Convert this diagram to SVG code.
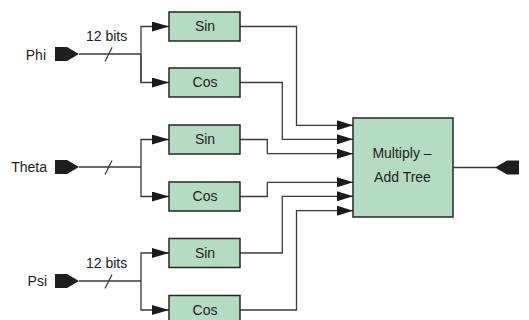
<svg xmlns="http://www.w3.org/2000/svg" width="529" height="320" viewBox="0 0 529 320">
<style>
.box{fill:#b4dcc3;stroke:#262626;stroke-width:1.5}
.lbl{font-family:"Liberation Sans",Arial,sans-serif;font-size:14px;fill:#222}
.c{text-anchor:middle}
.e{text-anchor:end}
.w{fill:none;stroke:#3a3a3a;stroke-width:1.3}
.port{fill:#1e1e1e}
</style>
<defs>
<marker id="a1" markerUnits="userSpaceOnUse" markerWidth="17" markerHeight="10" viewBox="0 0 17 10" refX="17" refY="5" orient="auto"><path d="M0,0 L17,5 L0,10 z" fill="#1a1a1a"/></marker>
<marker id="a2" markerUnits="userSpaceOnUse" markerWidth="16" markerHeight="10" viewBox="0 0 16 10" refX="16" refY="5" orient="auto"><path d="M0,0 L16,5 L0,10 z" fill="#1a1a1a"/></marker>
</defs>
<g id="connectors">
<!-- Phi -->
<path class="w" d="M79,54 H141"/>
<path class="w" d="M141,82.5 V26.5 H169" marker-end="url(#a1)"/>
<path class="w" d="M141,54 V82.5 H169" marker-end="url(#a1)"/>
<path class="w" d="M105,61.5 L112,47.5"/>
<!-- Theta -->
<path class="w" d="M79,167 H141"/>
<path class="w" d="M141,167 V139.5 H169" marker-end="url(#a1)"/>
<path class="w" d="M141,167 V196.5 H169" marker-end="url(#a1)"/>
<path class="w" d="M105,174.5 L112,160.5"/>
<!-- Psi -->
<path class="w" d="M79,281 H141"/>
<path class="w" d="M141,281 V253 H169" marker-end="url(#a1)"/>
<path class="w" d="M141,281 V310 H169" marker-end="url(#a1)"/>
<path class="w" d="M105,288.5 L112,274.5"/>
<!-- outputs -->
<path class="w" d="M240,26.5 H296.5 V125.3 H353" marker-end="url(#a2)"/>
<path class="w" d="M240,82.5 H282.3 V139.3 H353" marker-end="url(#a2)"/>
<path class="w" d="M240,139.5 H267.3 V153.7 H353" marker-end="url(#a2)"/>
<path class="w" d="M240,196.5 H267.3 V182.3 H353" marker-end="url(#a2)"/>
<path class="w" d="M240,253 H282.3 V196.3 H353" marker-end="url(#a2)"/>
<path class="w" d="M240,310 H296.5 V210.7 H353" marker-end="url(#a2)"/>
<path class="w" d="M453,167.5 H496"/>
</g>
<g id="phi">
<polygon class="port" points="55,47 67,47 79,54 67,61 55,61"/>
<text class="lbl e" x="46" y="59.5">Phi</text>
<text class="lbl" x="86" y="41">12 bits</text>
</g>
<g id="theta">
<polygon class="port" points="55,160 67,160 79,167 67,174 55,174"/>
<text class="lbl e" x="47" y="171.5">Theta</text>
</g>
<g id="psi">
<polygon class="port" points="55,274 67,274 79,281 67,288 55,288"/>
<text class="lbl e" x="47" y="285.5">Psi</text>
<text class="lbl" x="86" y="268">12 bits</text>
</g>
<g id="sin1"><rect class="box" x="169" y="12" width="71" height="29"/><text class="lbl c" x="205" y="31">Sin</text></g>
<g id="cos1"><rect class="box" x="169" y="68" width="71" height="29"/><text class="lbl c" x="205" y="87">Cos</text></g>
<g id="sin2"><rect class="box" x="169" y="125" width="71" height="29"/><text class="lbl c" x="205" y="144">Sin</text></g>
<g id="cos2"><rect class="box" x="169" y="182" width="71" height="29"/><text class="lbl c" x="205" y="201">Cos</text></g>
<g id="sin3"><rect class="box" x="169" y="238.5" width="71" height="29"/><text class="lbl c" x="205" y="257.5">Sin</text></g>
<g id="cos3"><rect class="box" x="169" y="295.5" width="71" height="29"/><text class="lbl c" x="205" y="314.5">Cos</text></g>
<g id="mat">
<rect class="box" x="353" y="118" width="100" height="99"/>
<text class="lbl c" x="402" y="158">Multiply –</text>
<text class="lbl c" x="402.5" y="181.5">Add Tree</text>
</g>
<g id="out">
<polygon class="port" points="495,167.5 507,160.5 519,160.5 519,174.5 507,174.5"/>
</g>
</svg>
